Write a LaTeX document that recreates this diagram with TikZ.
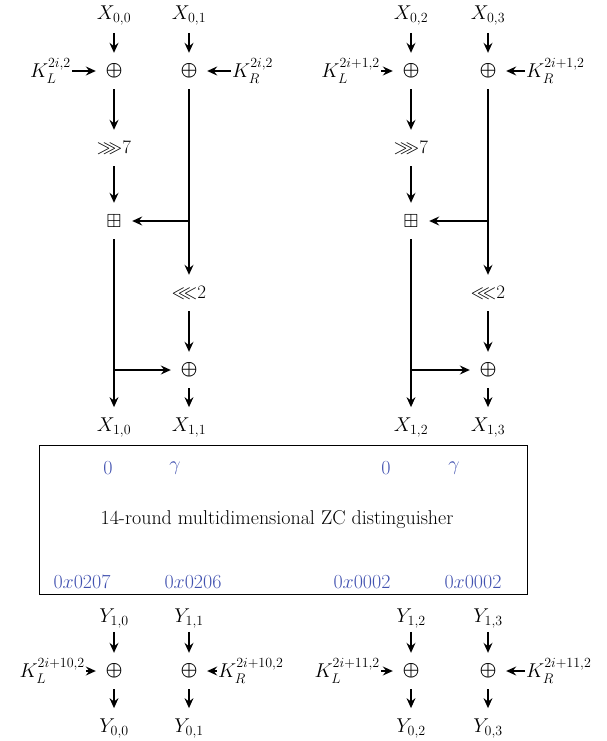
\RequirePackage{fix-cm}
\documentclass[tikz,border=0pt]{standalone}
\usepackage{amsmath}
\usepackage{amssymb}
\usetikzlibrary{arrows.meta}
\definecolor{ZCBlue}{HTML}{4252B0}
\newcommand{\xo}{\boldsymbol{\oplus}}

\begin{document}
\begin{tikzpicture}[
        x=1pt, y=-1pt,
        lbl/.style={inner sep=3pt, font=\fontsize{20}{24}\selectfont},
        key/.style={inner sep=1pt, font=\fontsize{20}{24}\selectfont},
        op/.style={inner sep=0pt, minimum size=36pt, font=\fontsize{19}{23}\selectfont},
        diff/.style={text=ZCBlue, inner sep=2pt, font=\fontsize{20}{24}\selectfont},
        edge/.style={draw, ->, >={Stealth[length=10pt,width=9pt,inset=3.5pt]}, line width=1.1pt}
    ]
        \useasboundingbox (0,0) rectangle (606,741);

        % left half of the round
        \node [lbl] (x00) at (114,16) {$X_{0,0}$};
        \node [lbl] (x01) at (189,16) {$X_{0,1}$};
        \node [op] (pl0) at (114,71) {$\xo$};
        \node [op] (pr0) at (189,71) {$\xo$};
        \node [key, anchor=east] (kl0) at (72,71) {$K_L^{2i,2}$};
        \node [key, anchor=west] (kr0) at (231,71) {$K_R^{2i,2}$};
        \node [op] (rl0) at (114,148) {${\ggg}7$};
        \node [op] (al0) at (114,221) {$\boxplus$};
        \node [op] (rr0) at (189,293) {${\lll}2$};
        \node [op] (ql0) at (189,370) {$\xo$};
        \node [lbl] (x10) at (114,428) {$X_{1,0}$};
        \node [lbl] (x11) at (189,428) {$X_{1,1}$};

        \draw [edge, shorten <=4pt] (x00) -- (pl0);
        \draw [edge, shorten <=4pt] (x01) -- (pr0);
        \draw [edge] (kl0) -- (pl0);
        \draw [edge] (kr0) -- (pr0);
        \draw [edge] (pl0) -- (rl0);
        \draw [edge] (rl0) -- (al0);
        \draw [edge] (pr0) -- (rr0);
        \draw [edge] (rr0 |- al0) -- (al0);
        \draw [edge] (rr0) -- (ql0);
        \draw [edge, shorten >=8pt] (al0) -- (x10);
        \draw [edge] (al0 |- ql0) -- (ql0);
        \draw [edge, shorten >=8pt] (ql0) -- (x11);

        % right half of the round
        \node [lbl] (x02) at (411,16) {$X_{0,2}$};
        \node [lbl] (x03) at (488,16) {$X_{0,3}$};
        \node [op] (pl1) at (411,71) {$\xo$};
        \node [op] (pr1) at (488,71) {$\xo$};
        \node [key, anchor=east] (kl1) at (381,71) {$K_L^{2i+1,2}$};
        \node [key, anchor=west] (kr1) at (525,71) {$K_R^{2i+1,2}$};
        \node [op] (rl1) at (411,148) {${\ggg}7$};
        \node [op] (al1) at (411,221) {$\boxplus$};
        \node [op] (rr1) at (488,293) {${\lll}2$};
        \node [op] (ql1) at (488,370) {$\xo$};
        \node [lbl] (x12) at (411,428) {$X_{1,2}$};
        \node [lbl] (x13) at (488,428) {$X_{1,3}$};

        \draw [edge, shorten <=4pt] (x02) -- (pl1);
        \draw [edge, shorten <=4pt] (x03) -- (pr1);
        \draw [edge] (kl1) -- (pl1);
        \draw [edge] (kr1) -- (pr1);
        \draw [edge] (pl1) -- (rl1);
        \draw [edge] (rl1) -- (al1);
        \draw [edge] (pr1) -- (rr1);
        \draw [edge] (rr1 |- al1) -- (al1);
        \draw [edge] (rr1) -- (ql1);
        \draw [edge, shorten >=8pt] (al1) -- (x12);
        \draw [edge] (al1 |- ql1) -- (ql1);
        \draw [edge, shorten >=8pt] (ql1) -- (x13);

        % distinguisher
        \node [draw, line width=0.9pt, minimum width=488pt, minimum height=149pt, inner sep=0pt] (zc) at (283,519.5) {};
        \node [lbl] (zctext) at (277,520) {14-round multidimensional ZC distinguisher};
        \node [diff] (din0) at (108,468) {0};
        \node [diff] (din1) at (175,468) {$\gamma$};
        \node [diff] (din2) at (386,468) {0};
        \node [diff] (din3) at (454,468) {$\gamma$};
        \node [diff] (dout0) at (82,582) {$0x0207$};
        \node [diff] (dout1) at (193,582) {$0x0206$};
        \node [diff] (dout2) at (362,582) {$0x0002$};
        \node [diff] (dout3) at (473,582) {$0x0002$};

        % final key addition
        \node [lbl] (y10) at (114,619) {$Y_{1,0}$};
        \node [lbl] (y11) at (189,619) {$Y_{1,1}$};
        \node [lbl] (y12) at (411,619) {$Y_{1,2}$};
        \node [lbl] (y13) at (488,619) {$Y_{1,3}$};
        \node [op] (pl2) at (114,671) {$\xo$};
        \node [op] (pr2) at (189,671) {$\xo$};
        \node [op] (pl3) at (411,671) {$\xo$};
        \node [op] (pr3) at (488,671) {$\xo$};
        \node [key, anchor=east] (kl2) at (86,671) {$K_L^{2i+10,2}$};
        \node [key, anchor=west] (kr2) at (217,671) {$K_R^{2i+10,2}$};
        \node [key, anchor=east] (kl3) at (381,671) {$K_L^{2i+11,2}$};
        \node [key, anchor=west] (kr3) at (525,671) {$K_R^{2i+11,2}$};
        \node [lbl] (y00) at (114,729) {$Y_{0,0}$};
        \node [lbl] (y01) at (189,729) {$Y_{0,1}$};
        \node [lbl] (y02) at (411,729) {$Y_{0,2}$};
        \node [lbl] (y03) at (488,729) {$Y_{0,3}$};

        \draw [edge] (y10) -- (pl2);
        \draw [edge] (y11) -- (pr2);
        \draw [edge] (y12) -- (pl3);
        \draw [edge] (y13) -- (pr3);
        \draw [edge] (kl2) -- (pl2);
        \draw [edge] (kr2) -- (pr2);
        \draw [edge] (kl3) -- (pl3);
        \draw [edge] (kr3) -- (pr3);
        \draw [edge, shorten >=8pt] (pl2) -- (y00);
        \draw [edge, shorten >=8pt] (pr2) -- (y01);
        \draw [edge, shorten >=8pt] (pl3) -- (y02);
        \draw [edge, shorten >=8pt] (pr3) -- (y03);
    \end{tikzpicture}
\end{document}
